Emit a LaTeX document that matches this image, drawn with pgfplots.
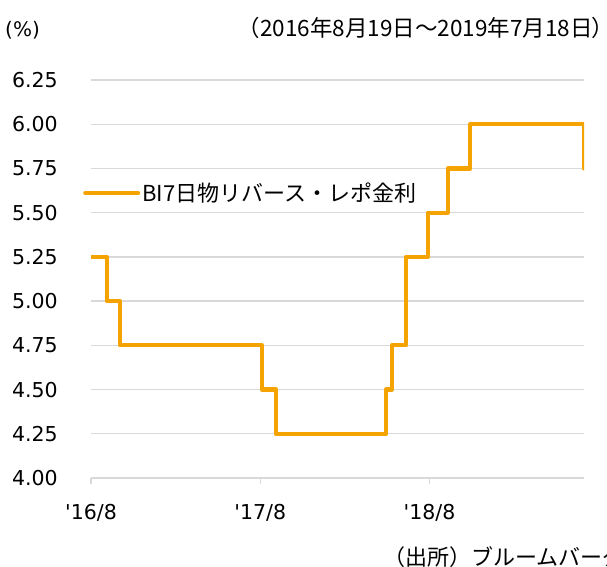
\documentclass[border=0pt]{standalone}
\usepackage{fontspec}
\setmainfont{DejaVu Sans}
\newfontfamily\cjk{Noto Sans CJK JP}
\newfontfamily\cjkp[RawFeature=+palt]{Noto Sans CJK JP}
\usepackage{pgfplots}
\pgfplotsset{compat=1.18}
\definecolor{bio}{HTML}{F5A300}
\definecolor{gridc}{HTML}{D9D9D9}
\begin{document}
\begin{tikzpicture}[x=1pt,y=1pt]
\useasboundingbox (0,0) rectangle (607,-566);
\begin{axis}[
  at={(91pt,-478pt)}, anchor=south west,
  width=493pt, height=398pt, scale only axis,
  xmin=0, xmax=1063, ymin=4, ymax=6.25,
  axis x line*=bottom, axis y line*=left,
  x axis line style={gridc, line width=1.3pt, -},
  y axis line style={draw=none},
  xtick={0,365,730},
  xticklabels={\textquotesingle16/8,\textquotesingle17/8,\textquotesingle18/8},
  ytick={4,4.25,4.5,4.75,5,5.25,5.5,5.75,6,6.25},
  xtick style={gridc, line width=1.3pt},
  ytick style={draw=none},
  tick align=outside, major tick length=6pt,
  ymajorgrids, grid style={gridc, line width=1.3pt},
  yticklabel style={/pgf/number format/fixed, /pgf/number format/fixed zerofill, /pgf/number format/precision=2, /pgf/number format/assume math mode=true},
  yticklabel style={font=\fontsize{20.5}{24}\selectfont, anchor=east, inner sep=0pt, xshift=-27pt},
  xticklabel style={font=\fontsize{20.5}{24}\selectfont, anchor=north, inner sep=0pt, yshift=-20pt},
  legend style={at={(axis description cs:-0.0162,0.716)}, anchor=west, draw=none, fill=none,
     inner sep=0pt, font=\fontsize{22}{26}\selectfont\cjk, cells={anchor=west},
     nodes={inner sep=2pt}},
  legend image code/.code={\draw[bio, line width=4pt, line cap=round] (0pt,0pt) -- (53pt,0pt);},
]
\addplot[const plot, bio, line width=4.2pt, line join=round, line cap=round] coordinates {
  (0,5.25) (34,5.00) (62,4.75) (368,4.50) (399,4.25) (636,4.50) (649,4.75)
  (679,5.25) (726,5.50) (769,5.75) (818,6.00) (1062,6.00) (1063,5.75)
};
\addlegendentry{BI7日物リバース・レポ金利}
\end{axis}
\node[anchor=west, inner sep=0pt, font=\fontsize{20}{24}\selectfont] at (5,-30) {(\%)};
\node[anchor=east, inner sep=0pt, font=\fontsize{22.5}{26}\selectfont\cjk] at (604,-28)
  {（2016年8月19日～2019年7月18日{\cjkp ）}};
\node[anchor=west, inner sep=0pt, font=\fontsize{22}{26}\selectfont\cjk] at (383,-557)
  {（出所）ブルームバーグ};
\end{tikzpicture}
\end{document}
